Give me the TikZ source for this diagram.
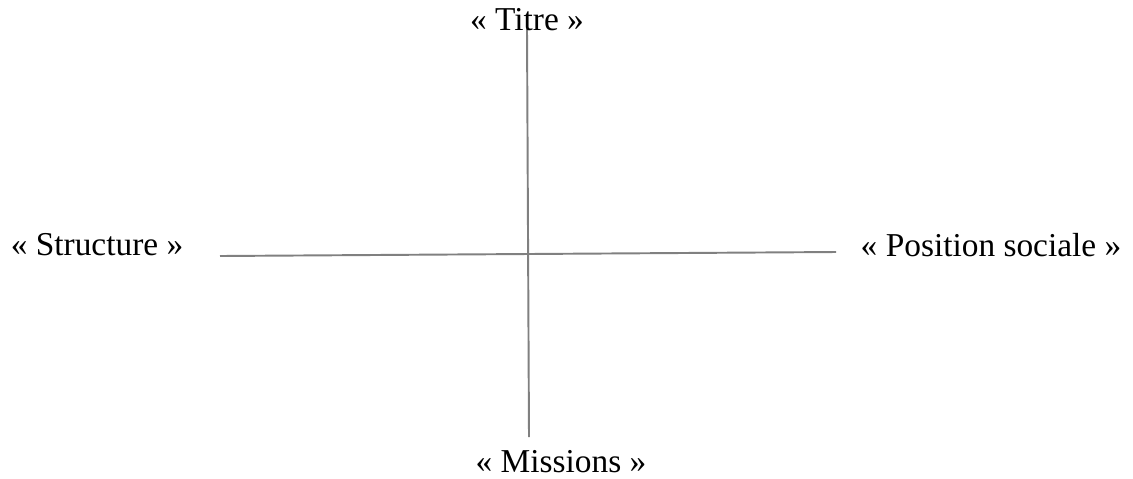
\documentclass[tikz,border=0pt]{standalone}
\usepackage{fontspec}
\setmainfont{Liberation Serif}
\usetikzlibrary{positioning}
\definecolor{AxisGray}{RGB}{128,128,128}

\begin{document}
\begin{tikzpicture}[x=0.02cm,y=-0.02cm,
    axislabel/.style={font=\fontsize{19}{22}\selectfont,inner sep=0pt},
    axisline/.style={draw=AxisGray,line width=1.1pt}]
  \useasboundingbox (0,0) rectangle (1133,478);
  % axis ends
  \coordinate (top) at (527,29);
  \coordinate (bottom) at (529,437);
  \coordinate (left) at (220,256);
  \coordinate (right) at (836,252);
  \draw[axisline] (top)--(bottom);
  \draw[axisline] (left)--(right);
  % labels
  \node[axislabel] (titre) at (527,20) {« Titre »};
  \node[axislabel] (missions) at (561,462) {« Missions »};
  \node[axislabel] (structure) at (97,245) {« Structure »};
  \node[axislabel] (position) at (991,245) {« Position sociale »};
\end{tikzpicture}
\end{document}
